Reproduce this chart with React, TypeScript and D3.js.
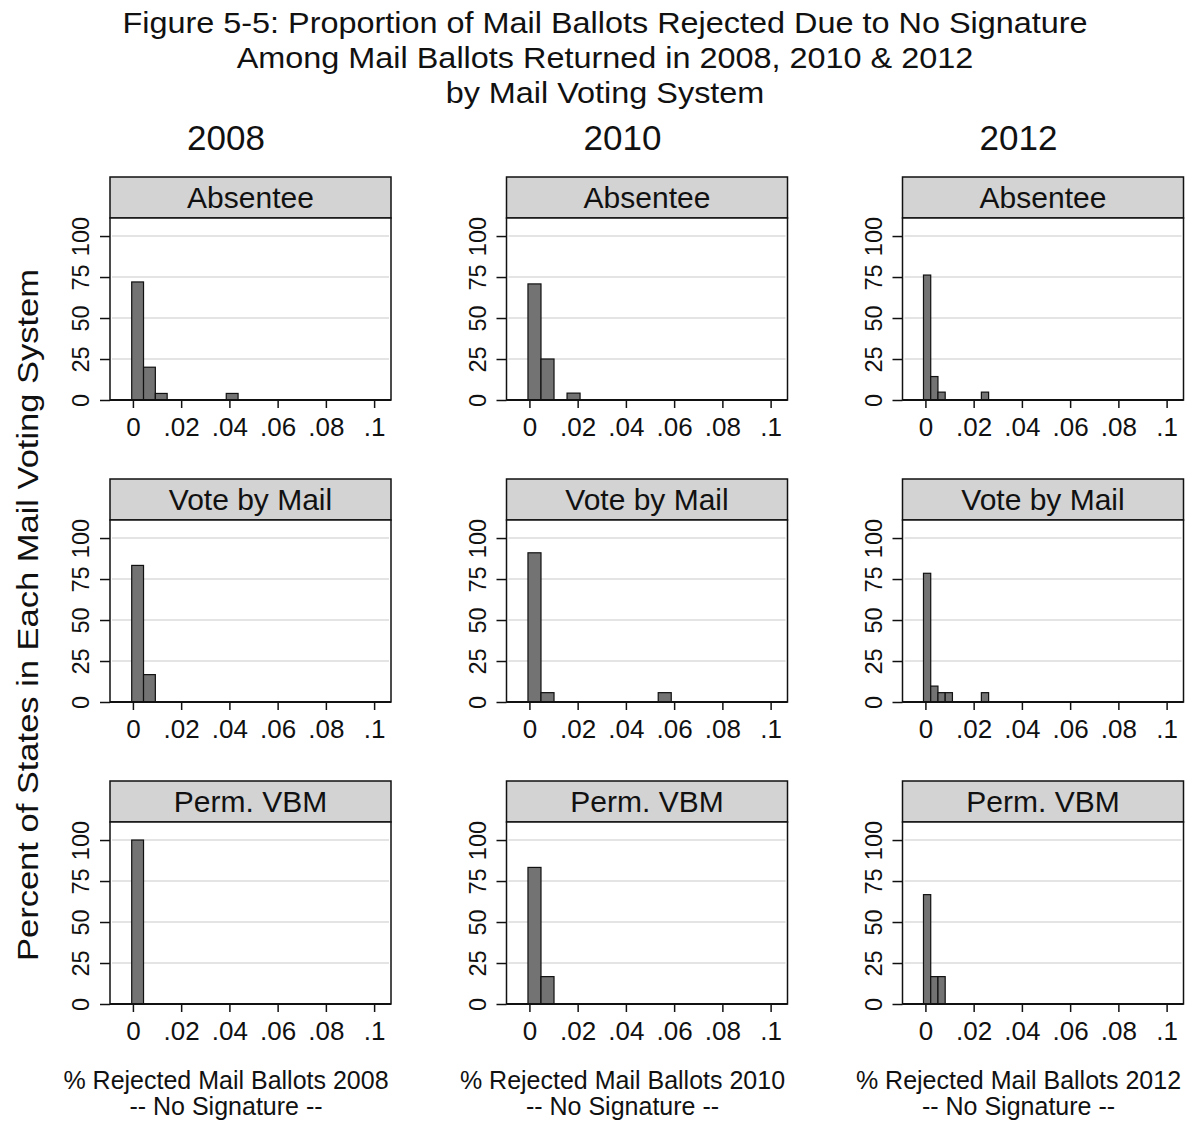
import React, { useEffect, useRef } from 'react'
import * as d3 from 'd3'

const titleLines = [
    'Figure 5-5: Proportion of Mail Ballots Rejected Due to No Signature',
    'Among Mail Ballots Returned in 2008, 2010 & 2012',
    'by Mail Voting System'
]
const years = ['2008', '2010', '2012']
const systems = ['Absentee', 'Vote by Mail', 'Perm. VBM']

// histogram bins per year (proportion rejected)
const binStart = [-0.0005, -0.0006, -0.0008]
const binWidth = [0.0049, 0.0054, 0.003]

// percent of states per bin, one array per year
const absentee = [
    [72, 20, 4, 0, 0, 0, 0, 0, 4],
    [70.8, 25, 0, 4.2],
    [76.2, 14.3, 4.8, 0, 0, 0, 0, 0, 4.8]
]
const voteByMail = [
    [83.3, 16.7],
    [91, 5.7, 0, 0, 0, 0, 0, 0, 0, 0, 5.7],
    [78.5, 9.7, 5.7, 5.7, 0, 0, 0, 0, 5.7]
]
const permVbm = [
    [100],
    [83.3, 16.7],
    [66.7, 16.7, 16.7]
]

const xTicks = [0, 0.02, 0.04, 0.06, 0.08, 0.1]
const yTicks = [0, 25, 50, 75, 100]

const width = 1192
const height = 1121
const colLeft = [110, 506.5, 902.5]
const rowTop = [177, 479, 781]
const stripH = 41
const plotW = 281
const plotH = 182
const font = '"Liberation Sans", Arial, Helvetica, sans-serif'

const fmtX = (d: number) => d === 0 ? '0' : d3.format('.2~f')(d).replace(/^0/, '')

export default function App() {
    const node = useRef<SVGSVGElement>(null)

    useEffect(() => {
        const svg = d3.select(node.current)
        svg.selectAll('*').remove()
        svg.attr('font-family', font)

        svg.append('rect')
            .attr('width', width)
            .attr('height', height)
            .attr('fill', '#fff')

        const x = d3.scaleLinear().domain([-0.0095, 0.107]).range([0, plotW])
        const y = d3.scaleLinear().domain([0, 111]).range([plotH, 0])
        const bySystem = [absentee, voteByMail, permVbm]

        // the original lettering is a bit wider than Liberation Sans
        svg.append('g')
            .selectAll('text')
            .data(titleLines)
            .join('text')
            .attr('transform', (d, i) => `translate(605,${22 + i * 35}) scale(1.08,1)`)
            .attr('dy', '0.35em')
            .attr('text-anchor', 'middle')
            .attr('font-size', 30)
            .attr('fill', '#111')
            .text(d => d)

        svg.append('text')
            .attr('transform', 'translate(27,615) rotate(-90) scale(1.15,1)')
            .attr('dy', '0.35em')
            .attr('text-anchor', 'middle')
            .attr('font-size', 30)
            .attr('fill', '#111')
            .text('Percent of States in Each Mail Voting System')

        years.forEach((year, c) => {
            const cx = colLeft[c] + 116

            svg.append('text')
                .attr('x', cx)
                .attr('y', 138)
                .attr('dy', '0.35em')
                .attr('text-anchor', 'middle')
                .attr('font-size', 35)
                .attr('fill', '#111')
                .text(year)

            svg.append('text')
                .attr('x', cx)
                .attr('y', 1080)
                .attr('dy', '0.35em')
                .attr('text-anchor', 'middle')
                .attr('font-size', 25)
                .attr('fill', '#111')
                .text(`% Rejected Mail Ballots ${year}`)

            svg.append('text')
                .attr('x', cx)
                .attr('y', 1106)
                .attr('dy', '0.35em')
                .attr('text-anchor', 'middle')
                .attr('font-size', 25)
                .attr('fill', '#111')
                .text('-- No Signature --')

            systems.forEach((sys, r) => {
                const g = svg.append('g')
                    .attr('transform', `translate(${colLeft[c]},${rowTop[r]})`)

                g.append('rect')
                    .attr('width', plotW)
                    .attr('height', stripH)
                    .attr('fill', '#d3d3d3')
                    .attr('stroke', '#111')
                    .attr('stroke-width', 1.5)

                g.append('text')
                    .attr('x', plotW / 2)
                    .attr('y', stripH / 2)
                    .attr('dy', '0.35em')
                    .attr('text-anchor', 'middle')
                    .attr('font-size', 30)
                    .attr('fill', '#111')
                    .text(sys)

                const p = g.append('g').attr('transform', `translate(0,${stripH})`)

                p.append('rect')
                    .attr('width', plotW)
                    .attr('height', plotH)
                    .attr('fill', '#fff')

                p.append('g')
                    .selectAll('line')
                    .data(yTicks.filter(t => t > 0))
                    .join('line')
                    .attr('x1', 2)
                    .attr('x2', plotW - 2)
                    .attr('y1', d => y(d))
                    .attr('y2', d => y(d))
                    .attr('stroke', '#e4e4e4')
                    .attr('stroke-width', 2)

                const bins = bySystem[r][c]
                    .map((v, i) => ({
                        x0: binStart[c] + i * binWidth[c],
                        x1: binStart[c] + (i + 1) * binWidth[c],
                        v
                    }))
                    .filter(b => b.v > 0)

                p.append('g')
                    .selectAll('rect')
                    .data(bins)
                    .join('rect')
                    .attr('x', d => x(d.x0))
                    .attr('y', d => y(d.v))
                    .attr('width', d => x(d.x1) - x(d.x0))
                    .attr('height', d => y(0) - y(d.v))
                    .attr('fill', '#737373')
                    .attr('stroke', '#111')
                    .attr('stroke-width', 1.2)

                p.append('rect')
                    .attr('width', plotW)
                    .attr('height', plotH)
                    .attr('fill', 'none')
                    .attr('stroke', '#111')
                    .attr('stroke-width', 1.5)

                p.append('g')
                    .attr('transform', `translate(0,${plotH})`)
                    .call(d3.axisBottom(x)
                        .tickValues(xTicks)
                        .tickFormat(d => fmtX(+d))
                        .tickSize(8)
                        .tickPadding(10))
                    .call(a => a.select('.domain').remove())
                    .call(a => a.selectAll('line').attr('stroke', '#111').attr('stroke-width', 1.5))
                    .call(a => a.selectAll('text')
                        .attr('font-size', 26)
                        .attr('font-family', font)
                        .attr('fill', '#111'))

                p.append('g')
                    .call(d3.axisLeft(y)
                        .tickValues(yTicks)
                        .tickSize(10))
                    .call(a => a.select('.domain').remove())
                    .call(a => a.selectAll('line').attr('stroke', '#111').attr('stroke-width', 1.5))
                    .call(a => a.selectAll('text')
                        .attr('x', null)
                        .attr('dy', '0.35em')
                        .attr('transform', 'translate(-29,0) rotate(-90)')
                        .attr('text-anchor', 'middle')
                        .attr('font-size', 23.5)
                        .attr('font-family', font)
                        .attr('fill', '#111'))

                p.append('line')
                    .attr('x1', 0)
                    .attr('x2', plotW)
                    .attr('y1', plotH)
                    .attr('y2', plotH)
                    .attr('stroke', '#111')
                    .attr('stroke-width', 2)
            })
        })
    }, [])

    return (
        <svg ref={node} width={width} height={height}
            style={{ position: 'absolute', left: 0, top: 0 }} />
    )
}
